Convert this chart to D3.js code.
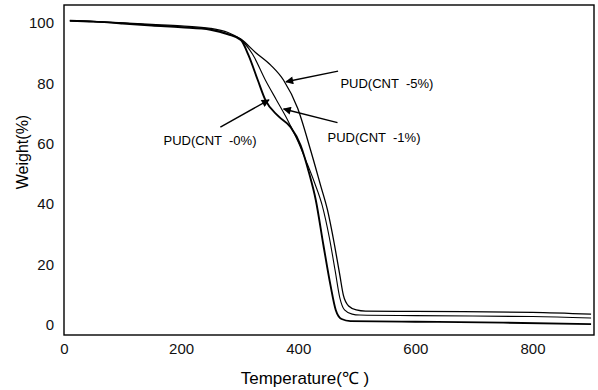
<!DOCTYPE html>
<html>
<head>
<meta charset="utf-8">
<script src="https://cdn.jsdelivr.net/npm/d3@7"></script>
<style>
  body { margin: 0; background: #fff; }
  svg { font-family: Arial, "Liberation Sans", sans-serif; }
</style>
</head>
<body>
<svg id="chart"></svg>
<script>
// TGA curves: temperature (°C) and weight (%)
const temp0 = [10, 50, 100, 150, 200, 250, 280, 302, 315, 331, 344, 366, 387, 404, 418, 430, 443, 455, 464, 474, 489, 600, 750, 900];
const cnt0  = [100.7, 100.4, 99.8, 99.1, 98.5, 97.7, 96.2, 94.3, 89.3, 81.0, 74.4, 69.1, 65.5, 59.5, 50.6, 41.3, 26.4, 13.2, 5.0, 2.0, 1.3, 1.1, 0.8, 0.3];

const temp1 = [10, 50, 100, 150, 200, 250, 280, 302, 322, 344, 363, 382, 399, 414, 428, 441, 453, 463, 471, 479, 492, 505, 600, 800, 900];
const cnt1  = [100.7, 100.4, 99.9, 99.3, 98.7, 97.9, 96.4, 94.4, 89.6, 81.0, 74.4, 67.8, 61.0, 54.0, 47.0, 39.5, 29.0, 18.0, 9.0, 5.0, 3.6, 3.3, 3.1, 2.8, 2.3];

const temp5 = [10, 50, 100, 150, 200, 250, 280, 302, 327, 353, 375, 399, 421, 438, 450, 462, 471, 477, 486, 499, 515, 600, 800, 900];
const cnt5  = [100.7, 100.5, 100.0, 99.5, 99.0, 98.2, 96.8, 94.6, 90.2, 86.0, 81.0, 71.7, 57.9, 46.3, 38.0, 26.4, 16.5, 9.9, 6.3, 5.0, 4.6, 4.5, 4.2, 3.6];

const xTicks = [0, 200, 400, 600, 800];
const yTicks = [0, 20, 40, 60, 80, 100];

// annotation labels: text anchor point and arrow tip (temperature, weight)
const noteText = ["PUD(CNT  -5%)", "PUD(CNT  -1%)", "PUD(CNT  -0%)"];
const noteTextT = [472, 450, 170];
const noteTextW = [78.5, 60.5, 59.5];
const noteFromT = [468, 467, 267];
const noteFromW = [84.0, 67.0, 65.5];
const noteTipT = [379, 375, 350];
const noteTipW = [80.5, 71.5, 74.5];

const width = 598, height = 390;
const margin = { top: 5, right: 4, bottom: 55, left: 64 };

const svg = d3.select("#chart").attr("width", width).attr("height", height);

const x = d3.scaleLinear().domain([0, 905]).range([margin.left, width - margin.right]);
const y = d3.scaleLinear().domain([-3.3, 105.9]).range([height - margin.bottom, margin.top]);

// arrow head
svg.append("defs").append("marker")
    .attr("id", "arrow")
    .attr("viewBox", "0 0 10 10")
    .attr("refX", 9).attr("refY", 5)
    .attr("markerWidth", 11).attr("markerHeight", 8)
    .attr("markerUnits", "userSpaceOnUse")
    .attr("orient", "auto")
    .append("path")
    .attr("d", "M0,0 L10,5 L0,10 z")
    .attr("fill", "#000");

// frame
svg.append("rect")
    .attr("x", margin.left).attr("y", margin.top)
    .attr("width", width - margin.left - margin.right)
    .attr("height", height - margin.top - margin.bottom)
    .attr("fill", "none").attr("stroke", "#000").attr("stroke-width", 1.4);

// axes
const xAxis = svg.append("g")
    .attr("transform", `translate(0, ${height - margin.bottom})`)
    .call(d3.axisBottom(x).tickValues(xTicks).tickSize(0).tickPadding(8));
const yAxis = svg.append("g")
    .attr("transform", `translate(${margin.left}, 0)`)
    .call(d3.axisLeft(y).tickValues(yTicks).tickSize(0).tickPadding(10));
[xAxis, yAxis].forEach(g => {
    g.select(".domain").remove();
    g.selectAll("text").style("font-size", "15px").attr("fill", "#111")
        .style("font-family", "Arial, 'Liberation Sans', sans-serif");
});

// axis titles
svg.append("text")
    .attr("x", 305).attr("y", 384)
    .attr("text-anchor", "middle")
    .style("font-size", "17px")
    .style("white-space", "pre")
    .text("Temperature(\u2103 )");

svg.append("text")
    .attr("transform", "translate(28, 152) rotate(-90)")
    .attr("text-anchor", "middle")
    .style("font-size", "16px")
    .text("Weight(%)");

// curves
const series = [
    { t: temp5, w: cnt5, sw: 1.3 },
    { t: temp1, w: cnt1, sw: 1.1 },
    { t: temp0, w: cnt0, sw: 1.9 }
];
const line = d3.line()
    .x(d => x(d[0]))
    .y(d => y(d[1]))
    .curve(d3.curveMonotoneX);

svg.selectAll(".curve")
    .data(series)
    .enter()
    .append("path")
    .attr("class", "curve")
    .attr("d", s => line(s.t.map((t, i) => [t, s.w[i]])))
    .attr("fill", "none")
    .attr("stroke", "#000")
    .attr("stroke-width", s => s.sw);

// annotations
noteText.forEach((txt, i) => {
    svg.append("line")
        .attr("x1", x(noteFromT[i])).attr("y1", y(noteFromW[i]))
        .attr("x2", x(noteTipT[i])).attr("y2", y(noteTipW[i]))
        .attr("stroke", "#000").attr("stroke-width", 1.4)
        .attr("marker-end", "url(#arrow)");
    svg.append("text")
        .attr("x", x(noteTextT[i])).attr("y", y(noteTextW[i]))
        .style("font-size", "13px")
        .style("white-space", "pre")
        .text(txt);
});
</script>
</body>
</html>
